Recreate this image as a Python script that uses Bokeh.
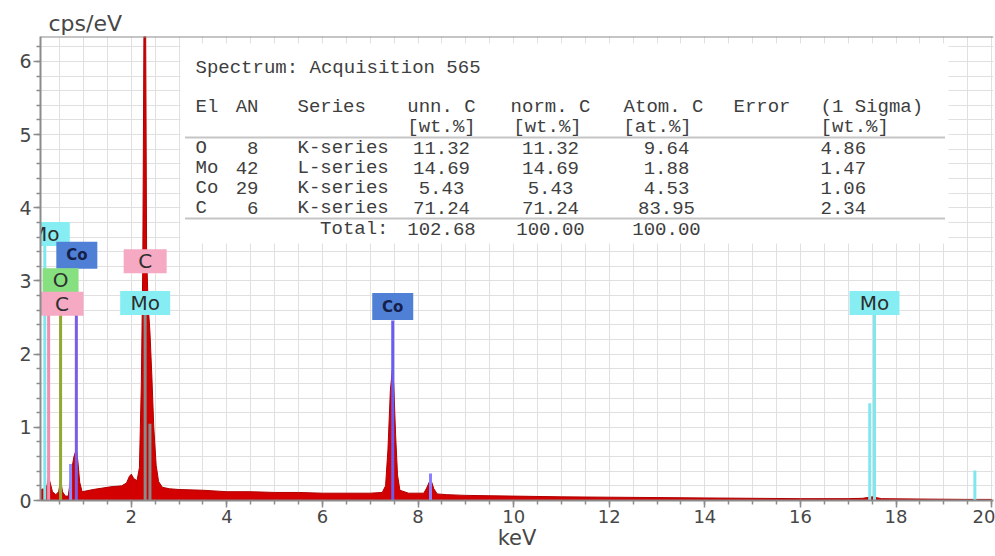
from bokeh.plotting import figure
from bokeh.models import Range1d, FixedTicker, Span
from bokeh.core.properties import value
from bokeh.embed import file_html
from bokeh.resources import INLINE

# ---------------- data ----------------
spec_kev = [0.10, 0.15, 0.20, 0.24, 0.27, 0.30, 0.35, 0.42, 0.48, 0.52, 0.56, 0.62,
            0.68, 0.72, 0.76, 0.80, 0.85, 0.88, 0.92, 0.97, 1.05, 1.20, 1.40, 1.60,
            1.80, 1.90, 1.96, 2.00, 2.05, 2.12, 2.17, 2.21, 2.24, 2.265, 2.30, 2.32,
            2.35, 2.39, 2.43, 2.47, 2.52, 2.57, 2.65, 2.80, 3.00, 3.50, 4.00, 4.50,
            5.00, 5.50, 6.00, 6.50, 7.00, 7.25, 7.32, 7.37, 7.42, 7.46, 7.49, 7.53,
            7.57, 7.62, 7.80, 8.00, 8.12, 8.18, 8.24, 8.28, 8.33, 8.40, 8.60, 9.00,
            10.0, 11.0, 12.0, 13.0, 14.0, 15.0, 16.0, 17.0, 17.3, 17.5, 17.7, 18.5,
            19.5, 20.0]
spec_cps = [0.14, 0.16, 0.14, 0.22, 0.32, 0.25, 0.12, 0.08, 0.12, 0.28, 0.12, 0.06,
            0.06, 0.25, 0.45, 0.60, 0.70, 0.55, 0.25, 0.12, 0.13, 0.15, 0.17, 0.19,
            0.20, 0.24, 0.33, 0.36, 0.30, 0.27, 0.45, 1.60, 3.20, 6.50, 6.50, 3.40,
            2.70, 2.30, 1.70, 1.00, 0.48, 0.26, 0.18, 0.16, 0.15, 0.14, 0.12, 0.12,
            0.11, 0.11, 0.10, 0.10, 0.10, 0.11, 0.20, 0.70, 1.50, 1.78, 1.60, 0.90,
            0.35, 0.14, 0.10, 0.10, 0.10, 0.17, 0.26, 0.26, 0.16, 0.09, 0.08, 0.07,
            0.06, 0.05, 0.045, 0.04, 0.035, 0.03, 0.025, 0.025, 0.03, 0.05, 0.025, 0.02,
            0.015, 0.015]

# element marker lines
line_kev = [0.19, 0.27, 0.52, 0.73, 0.85, 2.29, 2.39, 7.47, 8.26, 17.45, 17.55, 19.65]
line_top = [3.48, 2.58, 2.58, 0.50, 2.55, 2.55, 1.05, 2.46, 0.37, 1.33, 2.58, 0.41]
line_color = ["#7fe8ef", "#f28fb0", "#93a832", "#8c8cff", "#7b5ce6", "#8a8a8a",
              "#8a8a8a", "#6a5cf0", "#8a80ff", "#7fe8ef", "#7fe8ef", "#7fe8ef"]

# element tags
tag_text = ["Mo", "Co", "O", "C", "C", "Mo", "Co", "Mo"]
tag_kev = [0.19, 0.86, 0.52, 0.55, 2.29, 2.29, 7.47, 17.55]
tag_cps = [3.64, 3.35, 3.01, 2.69, 3.27, 2.70, 2.65, 2.70]

x_ticks = [2, 4, 6, 8, 10, 12, 14, 16, 18, 20]
y_ticks = [0, 1, 2, 3, 4, 5, 6]

# quantification table
table_title = "Spectrum: Acquisition 565"
head = ["El", "AN", "Series", "unn. C", "norm. C", "Atom. C", "Error", "(1 Sigma)"]
units = ["[wt.%]", "[wt.%]", "[at.%]", "[wt.%]"]
el = ["O", "Mo", "Co", "C"]
an = ["8", "42", "29", "6"]
series = ["K-series", "L-series", "K-series", "K-series"]
unn = ["11.32", "14.69", "5.43", "71.24"]
norm = ["11.32", "14.69", "5.43", "71.24"]
atom = ["9.64", "1.88", "4.53", "83.95"]
sigma = ["4.86", "1.47", "1.06", "2.34"]
total = ["102.68", "100.00", "100.00"]

# ---------------- layout ----------------
W, H = 995, 556
BL, BR, BT, BB = 40, 2, 36, 56
X0, X1 = 0.1, 20.04
Y0, Y1 = 0.0, 6.34
FW = W - BL - BR
FH = H - BT - BB


def px(xp):
    return X0 + (xp - BL) * (X1 - X0) / FW


def py(yp):
    return Y1 - (yp - BT) * (Y1 - Y0) / FH


AX = "#8c8c8c"
TXT = "#474747"

p = figure(width=W, height=H, x_range=Range1d(X0, X1), y_range=Range1d(Y0, Y1),
           output_backend="svg", toolbar_location=None,
           min_border_left=BL, min_border_right=BR, min_border_top=BT, min_border_bottom=BB)
p.background_fill_color = "white"
p.border_fill_color = "white"
p.outline_line_color = None

p.title.text = "cps/eV"
p.title.align = "left"
p.title.offset = 8
p.title.standoff = 2
p.title.text_font = "DejaVu Sans"
p.title.text_font_size = "22px"
p.title.text_font_style = "normal"
p.title.text_color = TXT

xt = FixedTicker(ticks=x_ticks, minor_ticks=[0.5 * k for k in range(1, 41)])
yt = FixedTicker(ticks=y_ticks, minor_ticks=[0.2 * k for k in range(0, 32)])
p.xaxis.ticker = xt
p.yaxis.ticker = yt
p.xgrid.ticker = xt
p.ygrid.ticker = yt
for g in (p.xgrid, p.ygrid):
    g.grid_line_color = "#e0e0e0"
    g.minor_grid_line_color = "#e0e0e0"
    g.grid_line_width = 1

for ax in (p.xaxis, p.yaxis):
    ax.axis_line_color = AX
    ax.axis_line_width = 2
    ax.major_tick_line_color = AX
    ax.minor_tick_line_color = AX
    ax.major_tick_line_width = 1.5
    ax.minor_tick_line_width = 1.5
    ax.major_tick_out = 7
    ax.major_tick_in = 0
    ax.minor_tick_out = 4
    ax.minor_tick_in = 0
    ax.major_label_text_font = "DejaVu Sans"
    ax.major_label_text_color = TXT
p.xaxis.major_label_text_font_size = "18px"
p.yaxis.major_label_text_font_size = "19px"
p.xaxis.major_label_standoff = 2
p.yaxis.major_label_standoff = 2
p.xaxis.axis_label = "keV"
p.xaxis.axis_label_standoff = 0
p.xaxis.axis_label_text_font = "DejaVu Sans"
p.xaxis.axis_label_text_font_size = "21px"
p.xaxis.axis_label_text_font_style = "normal"
p.xaxis.axis_label_text_color = TXT

p.add_layout(Span(location=Y1, dimension="width", line_color=AX, line_width=2))

# spectrum
p.varea(x=spec_kev, y1=[0] * len(spec_kev), y2=spec_cps, fill_color="#d20000")
p.line(spec_kev, spec_cps, line_color="#b00000", line_width=1)

# element lines
p.segment(x0=line_kev, y0=[0] * len(line_kev), x1=line_kev, y1=line_top,
          line_color=line_color, line_width=3)

# tags
tag_w = {"Mo": 50, "C": 43, "O": 36, "Co": 41}
tag_fill = {"Mo": "#86eef2", "C": "#f6a9c2", "O": "#86e07f", "Co": "#4f80d6"}
for t, xk, yc in zip(tag_text, tag_kev, tag_cps):
    hh = 27 if t == "Co" else 24
    p.rect(x=[xk], y=[yc], width=[tag_w[t]], height=[hh], width_units="screen",
           height_units="screen", fill_color=tag_fill[t], line_color=None)
    if t == "Co":
        p.text(x=[xk], y=[yc], text=[t], text_align="center", text_baseline="middle",
               text_font=value("DejaVu Sans"), text_font_style="bold",
               text_font_size="15px", text_color="#15204a")
    else:
        p.text(x=[xk], y=[yc], text=[t], text_align="center", text_baseline="middle",
               text_font=value("DejaVu Sans"), text_font_size="20px", text_color="#2e2e2e")

# table background
p.quad(left=[px(180)], right=[px(948)], top=[py(43)], bottom=[py(243)],
       fill_color="white", line_color=None)

cells = {"left": [], "center": [], "right": []}
cells["left"].append((table_title, 195, 67))
hx = [195, 258, 297, 441, 550, 663, 733, 820]
ha = ["left", "right", "left", "center", "center", "center", "left", "left"]
for t, x, a in zip(head, hx, ha):
    cells[a].append((t, x, 106))
for t, x, a in zip(units, [441, 547, 657, 820], ["center", "center", "center", "left"]):
    cells[a].append((t, x, 126))
for i in range(len(el)):
    yy = 147 + 20 * i
    cells["left"].append((el[i], 195, yy))
    cells["right"].append((an[i], 258, yy))
    cells["left"].append((series[i], 297, yy))
    cells["center"].append((unn[i], 441, yy))
    cells["center"].append((norm[i], 550, yy))
    cells["center"].append((atom[i], 666, yy))
    cells["left"].append((sigma[i], 820, yy))
cells["right"].append(("Total:", 388, 228))
for t, x in zip(total, [441, 550, 666]):
    cells["center"].append((t, x, 228))

for a, lst in cells.items():
    p.text(x=[px(c[1]) for c in lst], y=[py(c[2]) for c in lst], text=[c[0] for c in lst],
           text_align=a, text_baseline="middle", text_font=value("Liberation Mono"),
           text_font_size="19px", text_color="#3e3e3e")

p.segment(x0=[px(185), px(185)], y0=[py(137), py(218)], x1=[px(945), px(945)],
          y1=[py(137), py(218)], line_color="#8a8a8a", line_width=2, line_dash="1 1")

open("out.html", "w").write(file_html(p, INLINE))
